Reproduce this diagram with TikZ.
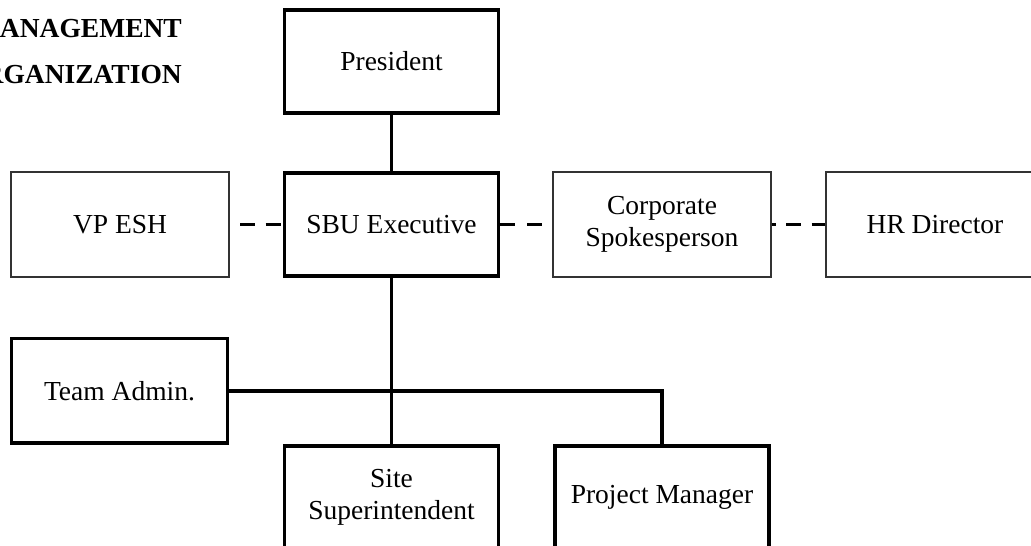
\documentclass[tikz,border=0pt]{standalone}
\usepackage{fontspec}
\setmainfont{Liberation Serif}

\begin{document}
\begin{tikzpicture}
[every node/.style={inner sep=0pt, align=center, font=\fontsize{27.5}{32}\selectfont},
 headbox/.style={rectangle, minimum width=214pt, minimum height=103pt, line width=3.5pt, draw=black},
 sidebox/.style={rectangle, minimum width=218pt, minimum height=105pt, line width=1.3pt, draw=black!80},
 title/.style={anchor=base east, font=\fontsize{27.5}{32}\selectfont\bfseries},
 link/.style={line width=3.5pt, color=black},
 dashlink/.style={line width=3.3pt, color=black, dash pattern=on 15pt off 10.5pt}]
\useasboundingbox (0pt, 0pt) rectangle (1031pt, -546pt);
\clip (0pt, 0pt) rectangle (1031pt, -546pt);
\node (t1) [title] at (182.0pt, -37.0pt) {MANAGEMENT};
\node (t2) [title] at (182.0pt, -83.0pt) {ORGANIZATION};
\node (pres) [headbox] at (391.5pt, -61.5pt) {President};
\node (sbu) [headbox] at (391.5pt, -224.5pt) {SBU Executive};
\node (vp) [sidebox] at (120.0pt, -224.5pt) {VP ESH};
\node (corp) [sidebox] at (662.0pt, -224.5pt) {Corporate\\Spokesperson};
\node (hr) [sidebox] at (935.0pt, -224.5pt) {HR Director};
\node (ta) [headbox, minimum width=216pt, minimum height=104.5pt] at (119.5pt, -390.75pt) {Team Admin.};
\node (site) [headbox] at (391.5pt, -497.5pt) {Site\\Superintendent};
\node (pm) [headbox] at (662.0pt, -497.5pt) {Project Manager};
\draw [link] (pres) -- (sbu);
\draw [link] (sbu) -- (site);
\draw [link] (ta) -| (pm);
\draw [dashlink, dash phase=15pt] (vp) -- (sbu);
\draw [dashlink, dash pattern=on 15pt off 12pt] (sbu) -- (corp);
\draw [dashlink, dash phase=11pt] (corp) -- (hr);
\end{tikzpicture}
\end{document}
